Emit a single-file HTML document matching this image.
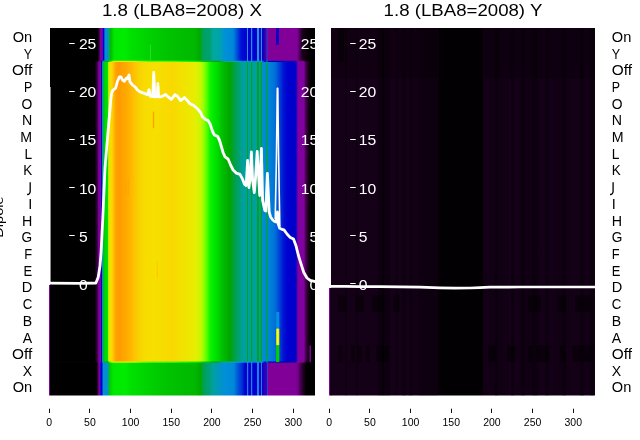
<!DOCTYPE html>
<html><head><meta charset="utf-8"><style>
html,body{margin:0;padding:0;background:#fff;width:640px;height:440px;overflow:hidden}
svg{display:block;will-change:transform}
</style></head><body>
<svg width="640" height="440" viewBox="0 0 640 440">
<style>
.yt{font-family:'Liberation Sans',sans-serif;font-size:13.9px;fill:#fff}
.rl{font-family:'Liberation Sans',sans-serif;font-size:13.9px;fill:#000}
.xt{font-family:'Liberation Sans',sans-serif;font-size:10.5px;fill:#000}
.ti{font-family:'Liberation Sans',sans-serif;font-size:16.9px;fill:#000}
.dl{font-family:'Liberation Sans',sans-serif;font-size:13.4px;fill:#000}
</style>
<defs>
<linearGradient id="gt" gradientUnits="userSpaceOnUse" x1="50.0" y1="0" x2="315.0" y2="0">
<stop offset="0.00000" stop-color="#000000"/>
<stop offset="0.17962" stop-color="#000000"/>
<stop offset="0.18566" stop-color="#380044"/>
<stop offset="0.18981" stop-color="#7a0090"/>
<stop offset="0.19774" stop-color="#8000a0"/>
<stop offset="0.20000" stop-color="#0000d8"/>
<stop offset="0.20377" stop-color="#0000e0"/>
<stop offset="0.20679" stop-color="#0090d0"/>
<stop offset="0.21887" stop-color="#0090d0"/>
<stop offset="0.22264" stop-color="#00a880"/>
<stop offset="0.22642" stop-color="#00b800"/>
<stop offset="0.23396" stop-color="#00c800"/>
<stop offset="0.24151" stop-color="#00e800"/>
<stop offset="0.28302" stop-color="#00ec00"/>
<stop offset="0.30566" stop-color="#00e000"/>
<stop offset="0.37736" stop-color="#00d000"/>
<stop offset="0.45283" stop-color="#00c200"/>
<stop offset="0.54717" stop-color="#00b800"/>
<stop offset="0.56604" stop-color="#00a800"/>
<stop offset="0.57736" stop-color="#00a060"/>
<stop offset="0.60377" stop-color="#00a070"/>
<stop offset="0.61509" stop-color="#00a8a0"/>
<stop offset="0.63774" stop-color="#00a4a8"/>
<stop offset="0.64906" stop-color="#009cc0"/>
<stop offset="0.66038" stop-color="#0090d8"/>
<stop offset="0.69057" stop-color="#0088d8"/>
<stop offset="0.70189" stop-color="#0060d8"/>
<stop offset="0.72075" stop-color="#0010d8"/>
<stop offset="0.74264" stop-color="#0000d0"/>
<stop offset="0.74415" stop-color="#3090e0"/>
<stop offset="0.74679" stop-color="#3090e0"/>
<stop offset="0.74830" stop-color="#0000d0"/>
<stop offset="0.75774" stop-color="#0000d0"/>
<stop offset="0.75925" stop-color="#2090e0"/>
<stop offset="0.76302" stop-color="#2090e0"/>
<stop offset="0.76453" stop-color="#0000d0"/>
<stop offset="0.78038" stop-color="#0000d0"/>
<stop offset="0.78189" stop-color="#3090e0"/>
<stop offset="0.78755" stop-color="#3090e0"/>
<stop offset="0.78906" stop-color="#0010d0"/>
<stop offset="0.79547" stop-color="#0010d0"/>
<stop offset="0.79698" stop-color="#3090e0"/>
<stop offset="0.79962" stop-color="#3090e0"/>
<stop offset="0.80113" stop-color="#0000c8"/>
<stop offset="0.80755" stop-color="#2000b8"/>
<stop offset="0.81623" stop-color="#5000a8"/>
<stop offset="0.81774" stop-color="#2040d0"/>
<stop offset="0.82000" stop-color="#2040d0"/>
<stop offset="0.82189" stop-color="#800098"/>
<stop offset="0.93208" stop-color="#800098"/>
<stop offset="0.93962" stop-color="#600070"/>
<stop offset="0.94717" stop-color="#300038"/>
<stop offset="0.95472" stop-color="#180018"/>
<stop offset="0.97358" stop-color="#080008"/>
<stop offset="0.98491" stop-color="#000000"/>
<stop offset="1.00000" stop-color="#000000"/>
</linearGradient>
<linearGradient id="gm" gradientUnits="userSpaceOnUse" x1="50.0" y1="0" x2="315.0" y2="0">
<stop offset="0.00000" stop-color="#000000"/>
<stop offset="0.16868" stop-color="#000000"/>
<stop offset="0.17925" stop-color="#400050"/>
<stop offset="0.18302" stop-color="#7a0090"/>
<stop offset="0.19057" stop-color="#8800a0"/>
<stop offset="0.19245" stop-color="#0000d0"/>
<stop offset="0.19472" stop-color="#0000d8"/>
<stop offset="0.19660" stop-color="#0088dd"/>
<stop offset="0.20000" stop-color="#00a880"/>
<stop offset="0.20377" stop-color="#00c000"/>
<stop offset="0.20755" stop-color="#00d800"/>
<stop offset="0.21698" stop-color="#00e000"/>
<stop offset="0.21962" stop-color="#a0f000"/>
<stop offset="0.22453" stop-color="#f0e000"/>
<stop offset="0.23396" stop-color="#f8d800"/>
<stop offset="0.24075" stop-color="#ffbc00"/>
<stop offset="0.24906" stop-color="#ffa000"/>
<stop offset="0.26038" stop-color="#ff9a00"/>
<stop offset="0.27358" stop-color="#ffa200"/>
<stop offset="0.28679" stop-color="#ffaa00"/>
<stop offset="0.30189" stop-color="#ffb400"/>
<stop offset="0.31698" stop-color="#ffc000"/>
<stop offset="0.33208" stop-color="#f8d000"/>
<stop offset="0.35849" stop-color="#f8dc00"/>
<stop offset="0.39623" stop-color="#f6e000"/>
<stop offset="0.42264" stop-color="#f8dc00"/>
<stop offset="0.46038" stop-color="#f8d800"/>
<stop offset="0.49057" stop-color="#f4e000"/>
<stop offset="0.52075" stop-color="#eee600"/>
<stop offset="0.53585" stop-color="#ecea00"/>
<stop offset="0.55472" stop-color="#e0f000"/>
<stop offset="0.56981" stop-color="#c0f800"/>
<stop offset="0.58113" stop-color="#90ff00"/>
<stop offset="0.59245" stop-color="#50ff00"/>
<stop offset="0.60377" stop-color="#10f400"/>
<stop offset="0.61887" stop-color="#00e800"/>
<stop offset="0.63396" stop-color="#00d800"/>
<stop offset="0.64906" stop-color="#00c000"/>
<stop offset="0.67925" stop-color="#00a400"/>
<stop offset="0.69434" stop-color="#00a040"/>
<stop offset="0.71321" stop-color="#00a070"/>
<stop offset="0.72830" stop-color="#00a0a0"/>
<stop offset="0.74264" stop-color="#00a0a0"/>
<stop offset="0.74415" stop-color="#00a020"/>
<stop offset="0.74642" stop-color="#00a020"/>
<stop offset="0.74792" stop-color="#00a0a0"/>
<stop offset="0.75774" stop-color="#00a0a0"/>
<stop offset="0.75925" stop-color="#00a020"/>
<stop offset="0.76302" stop-color="#00a020"/>
<stop offset="0.76453" stop-color="#00a0a0"/>
<stop offset="0.78038" stop-color="#00a0a0"/>
<stop offset="0.78189" stop-color="#00a020"/>
<stop offset="0.78717" stop-color="#00a020"/>
<stop offset="0.78868" stop-color="#00a0a0"/>
<stop offset="0.79396" stop-color="#00a0a0"/>
<stop offset="0.79547" stop-color="#00a020"/>
<stop offset="0.79925" stop-color="#00a020"/>
<stop offset="0.80075" stop-color="#0090c8"/>
<stop offset="0.81623" stop-color="#0088d8"/>
<stop offset="0.81774" stop-color="#00a040"/>
<stop offset="0.82113" stop-color="#00a040"/>
<stop offset="0.82264" stop-color="#0088d8"/>
<stop offset="0.84906" stop-color="#0070d8"/>
<stop offset="0.86038" stop-color="#0050d8"/>
<stop offset="0.87170" stop-color="#0030d8"/>
<stop offset="0.88302" stop-color="#0010d0"/>
<stop offset="0.89811" stop-color="#0000d0"/>
<stop offset="0.92830" stop-color="#0000c8"/>
<stop offset="0.93208" stop-color="#5000b0"/>
<stop offset="0.93774" stop-color="#8000a0"/>
<stop offset="0.95849" stop-color="#8000a0"/>
<stop offset="0.96415" stop-color="#500058"/>
<stop offset="0.97358" stop-color="#200020"/>
<stop offset="0.98491" stop-color="#000000"/>
<stop offset="1.00000" stop-color="#000000"/>
</linearGradient>
<linearGradient id="gb" gradientUnits="userSpaceOnUse" x1="50.0" y1="0" x2="315.0" y2="0">
<stop offset="0.00000" stop-color="#000000"/>
<stop offset="0.17472" stop-color="#000000"/>
<stop offset="0.17962" stop-color="#300038"/>
<stop offset="0.18453" stop-color="#7a0090"/>
<stop offset="0.18943" stop-color="#8000a0"/>
<stop offset="0.19132" stop-color="#0000d8"/>
<stop offset="0.19698" stop-color="#0000e0"/>
<stop offset="0.19925" stop-color="#0090d0"/>
<stop offset="0.21811" stop-color="#0090d0"/>
<stop offset="0.22113" stop-color="#00a880"/>
<stop offset="0.22453" stop-color="#00c800"/>
<stop offset="0.23396" stop-color="#00e000"/>
<stop offset="0.24151" stop-color="#00e800"/>
<stop offset="0.28302" stop-color="#00ec00"/>
<stop offset="0.30566" stop-color="#00e000"/>
<stop offset="0.37736" stop-color="#00d000"/>
<stop offset="0.45283" stop-color="#00c200"/>
<stop offset="0.54717" stop-color="#00b800"/>
<stop offset="0.56981" stop-color="#00a800"/>
<stop offset="0.57736" stop-color="#00a050"/>
<stop offset="0.60377" stop-color="#00a080"/>
<stop offset="0.61509" stop-color="#00a0a0"/>
<stop offset="0.64528" stop-color="#0094c8"/>
<stop offset="0.65660" stop-color="#0090d8"/>
<stop offset="0.69434" stop-color="#0088d8"/>
<stop offset="0.70566" stop-color="#0060d8"/>
<stop offset="0.72453" stop-color="#0030d8"/>
<stop offset="0.73585" stop-color="#0000d0"/>
<stop offset="0.74264" stop-color="#0000d0"/>
<stop offset="0.74415" stop-color="#2080e0"/>
<stop offset="0.74792" stop-color="#2080e0"/>
<stop offset="0.74943" stop-color="#0000d0"/>
<stop offset="0.75774" stop-color="#0000d0"/>
<stop offset="0.75925" stop-color="#2080e0"/>
<stop offset="0.76302" stop-color="#2080e0"/>
<stop offset="0.76453" stop-color="#0000d0"/>
<stop offset="0.78038" stop-color="#0000d0"/>
<stop offset="0.78189" stop-color="#2080e0"/>
<stop offset="0.78755" stop-color="#2080e0"/>
<stop offset="0.78906" stop-color="#0000d0"/>
<stop offset="0.79547" stop-color="#0000d0"/>
<stop offset="0.79698" stop-color="#2080e0"/>
<stop offset="0.79962" stop-color="#2080e0"/>
<stop offset="0.80113" stop-color="#1000c8"/>
<stop offset="0.80755" stop-color="#2000c0"/>
<stop offset="0.81774" stop-color="#4000b0"/>
<stop offset="0.81887" stop-color="#2040d0"/>
<stop offset="0.82189" stop-color="#2040d0"/>
<stop offset="0.82377" stop-color="#800098"/>
<stop offset="0.92830" stop-color="#800098"/>
<stop offset="0.93585" stop-color="#700088"/>
<stop offset="0.94717" stop-color="#400048"/>
<stop offset="0.95849" stop-color="#180018"/>
<stop offset="0.96792" stop-color="#000000"/>
<stop offset="1.00000" stop-color="#000000"/>
</linearGradient>
<linearGradient id="gr" gradientUnits="userSpaceOnUse" x1="331.0" y1="0" x2="595.0" y2="0">
<stop offset="0.00000" stop-color="#140017"/>
<stop offset="0.19242" stop-color="#140017"/>
<stop offset="0.19394" stop-color="#0a000c"/>
<stop offset="0.19924" stop-color="#0a000c"/>
<stop offset="0.20076" stop-color="#140017"/>
<stop offset="0.24545" stop-color="#140017"/>
<stop offset="0.24697" stop-color="#0c000e"/>
<stop offset="0.25076" stop-color="#0c000e"/>
<stop offset="0.25227" stop-color="#140017"/>
<stop offset="0.40152" stop-color="#120015"/>
<stop offset="0.41098" stop-color="#030003"/>
<stop offset="0.57197" stop-color="#030003"/>
<stop offset="0.57955" stop-color="#130016"/>
<stop offset="0.64015" stop-color="#100013"/>
<stop offset="0.67803" stop-color="#140017"/>
<stop offset="0.75379" stop-color="#110014"/>
<stop offset="0.81061" stop-color="#150018"/>
<stop offset="0.86742" stop-color="#110014"/>
<stop offset="0.92424" stop-color="#140017"/>
<stop offset="1.00000" stop-color="#120015"/>
</linearGradient>
<linearGradient id="gtm" gradientUnits="userSpaceOnUse" x1="50.0" y1="0" x2="315.0" y2="0">
<stop offset="0.00000" stop-color="#000000"/>
<stop offset="0.00377" stop-color="#000000"/>
<stop offset="0.00755" stop-color="#000000"/>
<stop offset="0.01132" stop-color="#000000"/>
<stop offset="0.01509" stop-color="#000000"/>
<stop offset="0.01887" stop-color="#000000"/>
<stop offset="0.02264" stop-color="#000000"/>
<stop offset="0.02642" stop-color="#000000"/>
<stop offset="0.03019" stop-color="#000000"/>
<stop offset="0.03396" stop-color="#000000"/>
<stop offset="0.03774" stop-color="#000000"/>
<stop offset="0.04151" stop-color="#000000"/>
<stop offset="0.04528" stop-color="#000000"/>
<stop offset="0.04906" stop-color="#000000"/>
<stop offset="0.05283" stop-color="#000000"/>
<stop offset="0.05660" stop-color="#000000"/>
<stop offset="0.06038" stop-color="#000000"/>
<stop offset="0.06415" stop-color="#000000"/>
<stop offset="0.06792" stop-color="#000000"/>
<stop offset="0.07170" stop-color="#000000"/>
<stop offset="0.07547" stop-color="#000000"/>
<stop offset="0.07925" stop-color="#000000"/>
<stop offset="0.08302" stop-color="#000000"/>
<stop offset="0.08679" stop-color="#000000"/>
<stop offset="0.09057" stop-color="#000000"/>
<stop offset="0.09434" stop-color="#000000"/>
<stop offset="0.09811" stop-color="#000000"/>
<stop offset="0.10189" stop-color="#000000"/>
<stop offset="0.10566" stop-color="#000000"/>
<stop offset="0.10943" stop-color="#000000"/>
<stop offset="0.11321" stop-color="#000000"/>
<stop offset="0.11698" stop-color="#000000"/>
<stop offset="0.12075" stop-color="#000000"/>
<stop offset="0.12453" stop-color="#000000"/>
<stop offset="0.12830" stop-color="#000000"/>
<stop offset="0.13208" stop-color="#000000"/>
<stop offset="0.13585" stop-color="#000000"/>
<stop offset="0.13962" stop-color="#000000"/>
<stop offset="0.14340" stop-color="#000000"/>
<stop offset="0.14717" stop-color="#000000"/>
<stop offset="0.15094" stop-color="#000000"/>
<stop offset="0.15472" stop-color="#000000"/>
<stop offset="0.15849" stop-color="#000000"/>
<stop offset="0.16226" stop-color="#000000"/>
<stop offset="0.16604" stop-color="#000000"/>
<stop offset="0.16981" stop-color="#000000"/>
<stop offset="0.17358" stop-color="#09000b"/>
<stop offset="0.17736" stop-color="#1c0020"/>
<stop offset="0.18113" stop-color="#380040"/>
<stop offset="0.18491" stop-color="#700080"/>
<stop offset="0.18868" stop-color="#7e008f"/>
<stop offset="0.19245" stop-color="#2d00a4"/>
<stop offset="0.19623" stop-color="#0000c1"/>
<stop offset="0.20000" stop-color="#0098dd"/>
<stop offset="0.20377" stop-color="#00aaa8"/>
<stop offset="0.20755" stop-color="#00a248"/>
<stop offset="0.21132" stop-color="#00a13d"/>
<stop offset="0.21509" stop-color="#009f33"/>
<stop offset="0.21887" stop-color="#00a700"/>
<stop offset="0.22264" stop-color="#00d700"/>
<stop offset="0.22642" stop-color="#1dff00"/>
<stop offset="0.23019" stop-color="#3bff00"/>
<stop offset="0.23396" stop-color="#58ff00"/>
<stop offset="0.23774" stop-color="#b0ff00"/>
<stop offset="0.24151" stop-color="#ccf900"/>
<stop offset="0.24528" stop-color="#d4f700"/>
<stop offset="0.24906" stop-color="#d8f500"/>
<stop offset="0.25283" stop-color="#dcf400"/>
<stop offset="0.25660" stop-color="#dcf400"/>
<stop offset="0.26038" stop-color="#dcf400"/>
<stop offset="0.26415" stop-color="#dcf400"/>
<stop offset="0.26792" stop-color="#dcf400"/>
<stop offset="0.27170" stop-color="#d8f500"/>
<stop offset="0.27547" stop-color="#d8f500"/>
<stop offset="0.27925" stop-color="#d8f500"/>
<stop offset="0.28302" stop-color="#d8f500"/>
<stop offset="0.28679" stop-color="#d4f700"/>
<stop offset="0.29057" stop-color="#d0f800"/>
<stop offset="0.29434" stop-color="#d0f800"/>
<stop offset="0.29811" stop-color="#ccf900"/>
<stop offset="0.30189" stop-color="#c8fb00"/>
<stop offset="0.30566" stop-color="#c8fb00"/>
<stop offset="0.30943" stop-color="#c4fc00"/>
<stop offset="0.31321" stop-color="#c4fc00"/>
<stop offset="0.31698" stop-color="#c0fd00"/>
<stop offset="0.32075" stop-color="#bcff00"/>
<stop offset="0.32453" stop-color="#bcff00"/>
<stop offset="0.32830" stop-color="#a1ff00"/>
<stop offset="0.33208" stop-color="#a1ff00"/>
<stop offset="0.33585" stop-color="#93ff00"/>
<stop offset="0.33962" stop-color="#93ff00"/>
<stop offset="0.34340" stop-color="#84ff00"/>
<stop offset="0.34717" stop-color="#84ff00"/>
<stop offset="0.35094" stop-color="#84ff00"/>
<stop offset="0.35472" stop-color="#75ff00"/>
<stop offset="0.35849" stop-color="#75ff00"/>
<stop offset="0.36226" stop-color="#75ff00"/>
<stop offset="0.36604" stop-color="#67ff00"/>
<stop offset="0.36981" stop-color="#67ff00"/>
<stop offset="0.37358" stop-color="#67ff00"/>
<stop offset="0.37736" stop-color="#67ff00"/>
<stop offset="0.38113" stop-color="#58ff00"/>
<stop offset="0.38491" stop-color="#58ff00"/>
<stop offset="0.38868" stop-color="#58ff00"/>
<stop offset="0.39245" stop-color="#58ff00"/>
<stop offset="0.39623" stop-color="#58ff00"/>
<stop offset="0.40000" stop-color="#58ff00"/>
<stop offset="0.40377" stop-color="#58ff00"/>
<stop offset="0.40755" stop-color="#58ff00"/>
<stop offset="0.41132" stop-color="#58ff00"/>
<stop offset="0.41509" stop-color="#58ff00"/>
<stop offset="0.41887" stop-color="#49ff00"/>
<stop offset="0.42264" stop-color="#49ff00"/>
<stop offset="0.42642" stop-color="#58ff00"/>
<stop offset="0.43019" stop-color="#58ff00"/>
<stop offset="0.43396" stop-color="#49ff00"/>
<stop offset="0.43774" stop-color="#49ff00"/>
<stop offset="0.44151" stop-color="#49ff00"/>
<stop offset="0.44528" stop-color="#49ff00"/>
<stop offset="0.44906" stop-color="#49ff00"/>
<stop offset="0.45283" stop-color="#49ff00"/>
<stop offset="0.45660" stop-color="#49ff00"/>
<stop offset="0.46038" stop-color="#49ff00"/>
<stop offset="0.46415" stop-color="#49ff00"/>
<stop offset="0.46792" stop-color="#49ff00"/>
<stop offset="0.47170" stop-color="#3bff00"/>
<stop offset="0.47547" stop-color="#3bff00"/>
<stop offset="0.47925" stop-color="#3bff00"/>
<stop offset="0.48302" stop-color="#2cff00"/>
<stop offset="0.48679" stop-color="#2cff00"/>
<stop offset="0.49057" stop-color="#2cff00"/>
<stop offset="0.49434" stop-color="#1dff00"/>
<stop offset="0.49811" stop-color="#1dff00"/>
<stop offset="0.50189" stop-color="#1dff00"/>
<stop offset="0.50566" stop-color="#1dff00"/>
<stop offset="0.50943" stop-color="#1dff00"/>
<stop offset="0.51321" stop-color="#1dff00"/>
<stop offset="0.51698" stop-color="#0fff00"/>
<stop offset="0.52075" stop-color="#0fff00"/>
<stop offset="0.52453" stop-color="#0fff00"/>
<stop offset="0.52830" stop-color="#00ff00"/>
<stop offset="0.53208" stop-color="#00ff00"/>
<stop offset="0.53585" stop-color="#00ff00"/>
<stop offset="0.53962" stop-color="#00fc00"/>
<stop offset="0.54340" stop-color="#00fc00"/>
<stop offset="0.54717" stop-color="#00fa00"/>
<stop offset="0.55094" stop-color="#00f700"/>
<stop offset="0.55472" stop-color="#00f400"/>
<stop offset="0.55849" stop-color="#00f200"/>
<stop offset="0.56226" stop-color="#00ec00"/>
<stop offset="0.56604" stop-color="#00e700"/>
<stop offset="0.56981" stop-color="#00da00"/>
<stop offset="0.57358" stop-color="#00d400"/>
<stop offset="0.57736" stop-color="#00cf00"/>
<stop offset="0.58113" stop-color="#00cc00"/>
<stop offset="0.58491" stop-color="#00ca00"/>
<stop offset="0.58868" stop-color="#00c700"/>
<stop offset="0.59245" stop-color="#00c400"/>
<stop offset="0.59623" stop-color="#00c400"/>
<stop offset="0.60000" stop-color="#00c200"/>
<stop offset="0.60377" stop-color="#00bf00"/>
<stop offset="0.60755" stop-color="#00b400"/>
<stop offset="0.61132" stop-color="#00af00"/>
<stop offset="0.61509" stop-color="#00a400"/>
<stop offset="0.61887" stop-color="#00a200"/>
<stop offset="0.62264" stop-color="#009f00"/>
<stop offset="0.62642" stop-color="#009c00"/>
<stop offset="0.63019" stop-color="#009a00"/>
<stop offset="0.63396" stop-color="#009a08"/>
<stop offset="0.63774" stop-color="#009b13"/>
<stop offset="0.64151" stop-color="#009f33"/>
<stop offset="0.64528" stop-color="#00a248"/>
<stop offset="0.64906" stop-color="#00a55d"/>
<stop offset="0.65283" stop-color="#00a773"/>
<stop offset="0.65660" stop-color="#00a97d"/>
<stop offset="0.66038" stop-color="#00aa90"/>
<stop offset="0.66415" stop-color="#00aa93"/>
<stop offset="0.66792" stop-color="#00aa95"/>
<stop offset="0.67170" stop-color="#00aa95"/>
<stop offset="0.67547" stop-color="#00aa98"/>
<stop offset="0.67925" stop-color="#00aa9b"/>
<stop offset="0.68302" stop-color="#00aaa3"/>
<stop offset="0.68679" stop-color="#00aaa5"/>
<stop offset="0.69057" stop-color="#00aaa8"/>
<stop offset="0.69434" stop-color="#00a7b3"/>
<stop offset="0.69811" stop-color="#00a4bb"/>
<stop offset="0.70189" stop-color="#00a3bf"/>
<stop offset="0.70566" stop-color="#00a2c3"/>
<stop offset="0.70943" stop-color="#009fcb"/>
<stop offset="0.71321" stop-color="#009ecf"/>
<stop offset="0.71698" stop-color="#009bd7"/>
<stop offset="0.72075" stop-color="#009adb"/>
<stop offset="0.72453" stop-color="#0092dd"/>
<stop offset="0.72830" stop-color="#008ddd"/>
<stop offset="0.73208" stop-color="#008add"/>
<stop offset="0.73585" stop-color="#0088dd"/>
<stop offset="0.73962" stop-color="#0088dd"/>
<stop offset="0.74340" stop-color="#00a0c7"/>
<stop offset="0.74717" stop-color="#00a3bf"/>
<stop offset="0.75094" stop-color="#0088dd"/>
<stop offset="0.75472" stop-color="#0088dd"/>
<stop offset="0.75849" stop-color="#00a0c7"/>
<stop offset="0.76226" stop-color="#00aaa3"/>
<stop offset="0.76604" stop-color="#0088dd"/>
<stop offset="0.76981" stop-color="#0088dd"/>
<stop offset="0.77358" stop-color="#0088dd"/>
<stop offset="0.77736" stop-color="#0088dd"/>
<stop offset="0.78113" stop-color="#00a0c7"/>
<stop offset="0.78491" stop-color="#00aaa3"/>
<stop offset="0.78868" stop-color="#0092dd"/>
<stop offset="0.79245" stop-color="#0090dd"/>
<stop offset="0.79623" stop-color="#00a6b7"/>
<stop offset="0.80000" stop-color="#00a2c3"/>
<stop offset="0.80377" stop-color="#0067dd"/>
<stop offset="0.80755" stop-color="#0013dd"/>
<stop offset="0.81132" stop-color="#0009dd"/>
<stop offset="0.81509" stop-color="#0000d9"/>
<stop offset="0.81887" stop-color="#00a2c3"/>
<stop offset="0.82264" stop-color="#0000d1"/>
<stop offset="0.82642" stop-color="#0000cd"/>
<stop offset="0.83019" stop-color="#0000cd"/>
<stop offset="0.83396" stop-color="#0000c9"/>
<stop offset="0.83774" stop-color="#0000c5"/>
<stop offset="0.84151" stop-color="#0000c5"/>
<stop offset="0.84528" stop-color="#0000c1"/>
<stop offset="0.84906" stop-color="#0000c1"/>
<stop offset="0.85283" stop-color="#0000c1"/>
<stop offset="0.85660" stop-color="#0000bd"/>
<stop offset="0.86038" stop-color="#0000bd"/>
<stop offset="0.86415" stop-color="#0000b9"/>
<stop offset="0.86792" stop-color="#0000b5"/>
<stop offset="0.87170" stop-color="#0000b5"/>
<stop offset="0.87547" stop-color="#0000b1"/>
<stop offset="0.87925" stop-color="#0000b1"/>
<stop offset="0.88302" stop-color="#0000ad"/>
<stop offset="0.88679" stop-color="#0d00a8"/>
<stop offset="0.89057" stop-color="#0d00a8"/>
<stop offset="0.89434" stop-color="#0d00a8"/>
<stop offset="0.89811" stop-color="#0d00a8"/>
<stop offset="0.90189" stop-color="#1800a7"/>
<stop offset="0.90566" stop-color="#1800a7"/>
<stop offset="0.90943" stop-color="#1800a7"/>
<stop offset="0.91321" stop-color="#1800a7"/>
<stop offset="0.91698" stop-color="#1800a7"/>
<stop offset="0.92075" stop-color="#1800a7"/>
<stop offset="0.92453" stop-color="#1800a7"/>
<stop offset="0.92830" stop-color="#1800a7"/>
<stop offset="0.93208" stop-color="#6d009c"/>
<stop offset="0.93585" stop-color="#810092"/>
<stop offset="0.93962" stop-color="#7e008f"/>
<stop offset="0.94340" stop-color="#7d008e"/>
<stop offset="0.94717" stop-color="#7a008b"/>
<stop offset="0.95094" stop-color="#7a008b"/>
<stop offset="0.95472" stop-color="#79008a"/>
<stop offset="0.95849" stop-color="#79008a"/>
<stop offset="0.96226" stop-color="#380040"/>
<stop offset="0.96604" stop-color="#25002b"/>
<stop offset="0.96981" stop-color="#1c0020"/>
<stop offset="0.97358" stop-color="#130015"/>
<stop offset="0.97736" stop-color="#09000b"/>
<stop offset="0.98113" stop-color="#000000"/>
<stop offset="0.98491" stop-color="#000000"/>
<stop offset="0.98868" stop-color="#000000"/>
<stop offset="0.99245" stop-color="#000000"/>
<stop offset="0.99623" stop-color="#000000"/>
<stop offset="1.00000" stop-color="#000000"/>
</linearGradient>
<linearGradient id="gmb" gradientUnits="userSpaceOnUse" x1="50.0" y1="0" x2="315.0" y2="0">
<stop offset="0.00000" stop-color="#000000"/>
<stop offset="0.00377" stop-color="#000000"/>
<stop offset="0.00755" stop-color="#000000"/>
<stop offset="0.01132" stop-color="#000000"/>
<stop offset="0.01509" stop-color="#000000"/>
<stop offset="0.01887" stop-color="#000000"/>
<stop offset="0.02264" stop-color="#000000"/>
<stop offset="0.02642" stop-color="#000000"/>
<stop offset="0.03019" stop-color="#000000"/>
<stop offset="0.03396" stop-color="#000000"/>
<stop offset="0.03774" stop-color="#000000"/>
<stop offset="0.04151" stop-color="#000000"/>
<stop offset="0.04528" stop-color="#000000"/>
<stop offset="0.04906" stop-color="#000000"/>
<stop offset="0.05283" stop-color="#000000"/>
<stop offset="0.05660" stop-color="#000000"/>
<stop offset="0.06038" stop-color="#000000"/>
<stop offset="0.06415" stop-color="#000000"/>
<stop offset="0.06792" stop-color="#000000"/>
<stop offset="0.07170" stop-color="#000000"/>
<stop offset="0.07547" stop-color="#000000"/>
<stop offset="0.07925" stop-color="#000000"/>
<stop offset="0.08302" stop-color="#000000"/>
<stop offset="0.08679" stop-color="#000000"/>
<stop offset="0.09057" stop-color="#000000"/>
<stop offset="0.09434" stop-color="#000000"/>
<stop offset="0.09811" stop-color="#000000"/>
<stop offset="0.10189" stop-color="#000000"/>
<stop offset="0.10566" stop-color="#000000"/>
<stop offset="0.10943" stop-color="#000000"/>
<stop offset="0.11321" stop-color="#000000"/>
<stop offset="0.11698" stop-color="#000000"/>
<stop offset="0.12075" stop-color="#000000"/>
<stop offset="0.12453" stop-color="#000000"/>
<stop offset="0.12830" stop-color="#000000"/>
<stop offset="0.13208" stop-color="#000000"/>
<stop offset="0.13585" stop-color="#000000"/>
<stop offset="0.13962" stop-color="#000000"/>
<stop offset="0.14340" stop-color="#000000"/>
<stop offset="0.14717" stop-color="#000000"/>
<stop offset="0.15094" stop-color="#000000"/>
<stop offset="0.15472" stop-color="#000000"/>
<stop offset="0.15849" stop-color="#000000"/>
<stop offset="0.16226" stop-color="#000000"/>
<stop offset="0.16604" stop-color="#000000"/>
<stop offset="0.16981" stop-color="#000000"/>
<stop offset="0.17358" stop-color="#09000b"/>
<stop offset="0.17736" stop-color="#25002b"/>
<stop offset="0.18113" stop-color="#540060"/>
<stop offset="0.18491" stop-color="#7f0090"/>
<stop offset="0.18868" stop-color="#83009a"/>
<stop offset="0.19245" stop-color="#0000d5"/>
<stop offset="0.19623" stop-color="#0038dd"/>
<stop offset="0.20000" stop-color="#00aaa5"/>
<stop offset="0.20377" stop-color="#00a773"/>
<stop offset="0.20755" stop-color="#00a248"/>
<stop offset="0.21132" stop-color="#00a13d"/>
<stop offset="0.21509" stop-color="#009f33"/>
<stop offset="0.21887" stop-color="#00ac00"/>
<stop offset="0.22264" stop-color="#00dc00"/>
<stop offset="0.22642" stop-color="#58ff00"/>
<stop offset="0.23019" stop-color="#75ff00"/>
<stop offset="0.23396" stop-color="#a1ff00"/>
<stop offset="0.23774" stop-color="#c0fd00"/>
<stop offset="0.24151" stop-color="#ccf900"/>
<stop offset="0.24528" stop-color="#d4f700"/>
<stop offset="0.24906" stop-color="#d8f500"/>
<stop offset="0.25283" stop-color="#dcf400"/>
<stop offset="0.25660" stop-color="#dcf400"/>
<stop offset="0.26038" stop-color="#dcf400"/>
<stop offset="0.26415" stop-color="#dcf400"/>
<stop offset="0.26792" stop-color="#dcf400"/>
<stop offset="0.27170" stop-color="#d8f500"/>
<stop offset="0.27547" stop-color="#d8f500"/>
<stop offset="0.27925" stop-color="#d8f500"/>
<stop offset="0.28302" stop-color="#d8f500"/>
<stop offset="0.28679" stop-color="#d4f700"/>
<stop offset="0.29057" stop-color="#d0f800"/>
<stop offset="0.29434" stop-color="#d0f800"/>
<stop offset="0.29811" stop-color="#ccf900"/>
<stop offset="0.30189" stop-color="#c8fb00"/>
<stop offset="0.30566" stop-color="#c8fb00"/>
<stop offset="0.30943" stop-color="#c4fc00"/>
<stop offset="0.31321" stop-color="#c4fc00"/>
<stop offset="0.31698" stop-color="#c0fd00"/>
<stop offset="0.32075" stop-color="#bcff00"/>
<stop offset="0.32453" stop-color="#bcff00"/>
<stop offset="0.32830" stop-color="#a1ff00"/>
<stop offset="0.33208" stop-color="#a1ff00"/>
<stop offset="0.33585" stop-color="#93ff00"/>
<stop offset="0.33962" stop-color="#93ff00"/>
<stop offset="0.34340" stop-color="#84ff00"/>
<stop offset="0.34717" stop-color="#84ff00"/>
<stop offset="0.35094" stop-color="#84ff00"/>
<stop offset="0.35472" stop-color="#75ff00"/>
<stop offset="0.35849" stop-color="#75ff00"/>
<stop offset="0.36226" stop-color="#75ff00"/>
<stop offset="0.36604" stop-color="#67ff00"/>
<stop offset="0.36981" stop-color="#67ff00"/>
<stop offset="0.37358" stop-color="#67ff00"/>
<stop offset="0.37736" stop-color="#67ff00"/>
<stop offset="0.38113" stop-color="#58ff00"/>
<stop offset="0.38491" stop-color="#58ff00"/>
<stop offset="0.38868" stop-color="#58ff00"/>
<stop offset="0.39245" stop-color="#58ff00"/>
<stop offset="0.39623" stop-color="#58ff00"/>
<stop offset="0.40000" stop-color="#58ff00"/>
<stop offset="0.40377" stop-color="#58ff00"/>
<stop offset="0.40755" stop-color="#58ff00"/>
<stop offset="0.41132" stop-color="#58ff00"/>
<stop offset="0.41509" stop-color="#58ff00"/>
<stop offset="0.41887" stop-color="#49ff00"/>
<stop offset="0.42264" stop-color="#49ff00"/>
<stop offset="0.42642" stop-color="#58ff00"/>
<stop offset="0.43019" stop-color="#58ff00"/>
<stop offset="0.43396" stop-color="#49ff00"/>
<stop offset="0.43774" stop-color="#49ff00"/>
<stop offset="0.44151" stop-color="#49ff00"/>
<stop offset="0.44528" stop-color="#49ff00"/>
<stop offset="0.44906" stop-color="#49ff00"/>
<stop offset="0.45283" stop-color="#49ff00"/>
<stop offset="0.45660" stop-color="#49ff00"/>
<stop offset="0.46038" stop-color="#49ff00"/>
<stop offset="0.46415" stop-color="#49ff00"/>
<stop offset="0.46792" stop-color="#49ff00"/>
<stop offset="0.47170" stop-color="#3bff00"/>
<stop offset="0.47547" stop-color="#3bff00"/>
<stop offset="0.47925" stop-color="#3bff00"/>
<stop offset="0.48302" stop-color="#2cff00"/>
<stop offset="0.48679" stop-color="#2cff00"/>
<stop offset="0.49057" stop-color="#2cff00"/>
<stop offset="0.49434" stop-color="#1dff00"/>
<stop offset="0.49811" stop-color="#1dff00"/>
<stop offset="0.50189" stop-color="#1dff00"/>
<stop offset="0.50566" stop-color="#1dff00"/>
<stop offset="0.50943" stop-color="#1dff00"/>
<stop offset="0.51321" stop-color="#1dff00"/>
<stop offset="0.51698" stop-color="#0fff00"/>
<stop offset="0.52075" stop-color="#0fff00"/>
<stop offset="0.52453" stop-color="#0fff00"/>
<stop offset="0.52830" stop-color="#00ff00"/>
<stop offset="0.53208" stop-color="#00ff00"/>
<stop offset="0.53585" stop-color="#00ff00"/>
<stop offset="0.53962" stop-color="#00fc00"/>
<stop offset="0.54340" stop-color="#00fc00"/>
<stop offset="0.54717" stop-color="#00fa00"/>
<stop offset="0.55094" stop-color="#00f700"/>
<stop offset="0.55472" stop-color="#00f400"/>
<stop offset="0.55849" stop-color="#00f200"/>
<stop offset="0.56226" stop-color="#00ec00"/>
<stop offset="0.56604" stop-color="#00ea00"/>
<stop offset="0.56981" stop-color="#00e400"/>
<stop offset="0.57358" stop-color="#00d700"/>
<stop offset="0.57736" stop-color="#00cf00"/>
<stop offset="0.58113" stop-color="#00cf00"/>
<stop offset="0.58491" stop-color="#00ca00"/>
<stop offset="0.58868" stop-color="#00c700"/>
<stop offset="0.59245" stop-color="#00c400"/>
<stop offset="0.59623" stop-color="#00c200"/>
<stop offset="0.60000" stop-color="#00bf00"/>
<stop offset="0.60377" stop-color="#00bc00"/>
<stop offset="0.60755" stop-color="#00b200"/>
<stop offset="0.61132" stop-color="#00ac00"/>
<stop offset="0.61509" stop-color="#00a400"/>
<stop offset="0.61887" stop-color="#009f00"/>
<stop offset="0.62264" stop-color="#009a00"/>
<stop offset="0.62642" stop-color="#009a08"/>
<stop offset="0.63019" stop-color="#009b13"/>
<stop offset="0.63396" stop-color="#009e28"/>
<stop offset="0.63774" stop-color="#00a13d"/>
<stop offset="0.64151" stop-color="#00a248"/>
<stop offset="0.64528" stop-color="#00a55d"/>
<stop offset="0.64906" stop-color="#00a773"/>
<stop offset="0.65283" stop-color="#00aa8b"/>
<stop offset="0.65660" stop-color="#00aa8d"/>
<stop offset="0.66038" stop-color="#00aa90"/>
<stop offset="0.66415" stop-color="#00aa93"/>
<stop offset="0.66792" stop-color="#00aa95"/>
<stop offset="0.67170" stop-color="#00aa95"/>
<stop offset="0.67547" stop-color="#00aa98"/>
<stop offset="0.67925" stop-color="#00aa9b"/>
<stop offset="0.68302" stop-color="#00aaa3"/>
<stop offset="0.68679" stop-color="#00aaa5"/>
<stop offset="0.69057" stop-color="#00aaa8"/>
<stop offset="0.69434" stop-color="#00aaab"/>
<stop offset="0.69811" stop-color="#00a6b7"/>
<stop offset="0.70189" stop-color="#00a4bb"/>
<stop offset="0.70566" stop-color="#00a2c3"/>
<stop offset="0.70943" stop-color="#00a0c7"/>
<stop offset="0.71321" stop-color="#009fcb"/>
<stop offset="0.71698" stop-color="#009ecf"/>
<stop offset="0.72075" stop-color="#009cd3"/>
<stop offset="0.72453" stop-color="#0098dd"/>
<stop offset="0.72830" stop-color="#0090dd"/>
<stop offset="0.73208" stop-color="#0090dd"/>
<stop offset="0.73585" stop-color="#0088dd"/>
<stop offset="0.73962" stop-color="#0088dd"/>
<stop offset="0.74340" stop-color="#00a0c7"/>
<stop offset="0.74717" stop-color="#00a6b7"/>
<stop offset="0.75094" stop-color="#0088dd"/>
<stop offset="0.75472" stop-color="#0088dd"/>
<stop offset="0.75849" stop-color="#00a0c7"/>
<stop offset="0.76226" stop-color="#00aaab"/>
<stop offset="0.76604" stop-color="#0088dd"/>
<stop offset="0.76981" stop-color="#0088dd"/>
<stop offset="0.77358" stop-color="#0088dd"/>
<stop offset="0.77736" stop-color="#0088dd"/>
<stop offset="0.78113" stop-color="#00a0c7"/>
<stop offset="0.78491" stop-color="#00aaab"/>
<stop offset="0.78868" stop-color="#0090dd"/>
<stop offset="0.79245" stop-color="#0088dd"/>
<stop offset="0.79623" stop-color="#00a4bb"/>
<stop offset="0.80000" stop-color="#00a0c7"/>
<stop offset="0.80377" stop-color="#0067dd"/>
<stop offset="0.80755" stop-color="#001cdd"/>
<stop offset="0.81132" stop-color="#0009dd"/>
<stop offset="0.81509" stop-color="#0000dd"/>
<stop offset="0.81887" stop-color="#00a2c3"/>
<stop offset="0.82264" stop-color="#0000dd"/>
<stop offset="0.82642" stop-color="#0000cd"/>
<stop offset="0.83019" stop-color="#0000cd"/>
<stop offset="0.83396" stop-color="#0000c9"/>
<stop offset="0.83774" stop-color="#0000c5"/>
<stop offset="0.84151" stop-color="#0000c5"/>
<stop offset="0.84528" stop-color="#0000c1"/>
<stop offset="0.84906" stop-color="#0000c1"/>
<stop offset="0.85283" stop-color="#0000c1"/>
<stop offset="0.85660" stop-color="#0000bd"/>
<stop offset="0.86038" stop-color="#0000bd"/>
<stop offset="0.86415" stop-color="#0000b9"/>
<stop offset="0.86792" stop-color="#0000b5"/>
<stop offset="0.87170" stop-color="#0000b5"/>
<stop offset="0.87547" stop-color="#0000b1"/>
<stop offset="0.87925" stop-color="#0000b1"/>
<stop offset="0.88302" stop-color="#0000ad"/>
<stop offset="0.88679" stop-color="#0d00a8"/>
<stop offset="0.89057" stop-color="#0d00a8"/>
<stop offset="0.89434" stop-color="#0d00a8"/>
<stop offset="0.89811" stop-color="#0d00a8"/>
<stop offset="0.90189" stop-color="#1800a7"/>
<stop offset="0.90566" stop-color="#1800a7"/>
<stop offset="0.90943" stop-color="#1800a7"/>
<stop offset="0.91321" stop-color="#1800a7"/>
<stop offset="0.91698" stop-color="#1800a7"/>
<stop offset="0.92075" stop-color="#1800a7"/>
<stop offset="0.92453" stop-color="#1800a7"/>
<stop offset="0.92830" stop-color="#1800a7"/>
<stop offset="0.93208" stop-color="#850096"/>
<stop offset="0.93585" stop-color="#810092"/>
<stop offset="0.93962" stop-color="#7e008f"/>
<stop offset="0.94340" stop-color="#7d008e"/>
<stop offset="0.94717" stop-color="#7b008c"/>
<stop offset="0.95094" stop-color="#7a008b"/>
<stop offset="0.95472" stop-color="#7a008b"/>
<stop offset="0.95849" stop-color="#79008a"/>
<stop offset="0.96226" stop-color="#2f0035"/>
<stop offset="0.96604" stop-color="#1c0020"/>
<stop offset="0.96981" stop-color="#130015"/>
<stop offset="0.97358" stop-color="#09000b"/>
<stop offset="0.97736" stop-color="#09000b"/>
<stop offset="0.98113" stop-color="#000000"/>
<stop offset="0.98491" stop-color="#000000"/>
<stop offset="0.98868" stop-color="#000000"/>
<stop offset="0.99245" stop-color="#000000"/>
<stop offset="0.99623" stop-color="#000000"/>
<stop offset="1.00000" stop-color="#000000"/>
</linearGradient>
<clipPath id="clipL"><rect x="50" y="0" width="265" height="440"/></clipPath>
</defs>
<rect width="640" height="440" fill="#fff"/>
<rect x="50.0" y="28.0" width="265.0" height="33.41" fill="url(#gt)"/>
<rect x="50.0" y="60.91" width="265.0" height="301.68" fill="url(#gm)"/>
<rect x="50.0" y="362.09" width="265.0" height="33.41" fill="url(#gb)"/>
<rect x="50.0" y="60.81" width="265.0" height="1.2" fill="url(#gtm)"/>
<rect x="50.0" y="361.49" width="265.0" height="1.2" fill="url(#gmb)"/>
<rect x="50" y="87" width="1" height="196" fill="#fff" opacity="0.55"/>
<rect x="49" y="285" width="1" height="110.50" fill="#8000a0"/>
<rect x="276" y="28.00" width="3" height="16.70" fill="#1000c0"/>
<rect x="125.2" y="178.34" width="1" height="16.70" fill="#ffa000" opacity="0.7"/>
<rect x="127.9" y="178.34" width="1" height="16.70" fill="#ffa000" opacity="0.7"/>
<rect x="149.9" y="44.70" width="1" height="16.70" fill="#30e040" opacity="0.8"/>
<rect x="156.7" y="261.86" width="1.3" height="16.70" fill="#ffc400" opacity="0.8"/>
<rect x="152.9" y="111.52" width="1.3" height="16.70" fill="#ffa000"/>
<rect x="276.1" y="311.98" width="3.2" height="16.70" fill="#0090e0"/>
<rect x="276.1" y="328.68" width="3.2" height="16.70" fill="#d0f000"/>
<rect x="277" y="328.68" width="1.4" height="16.70" fill="#ffff20"/>
<rect x="276.1" y="345.39" width="3.2" height="16.70" fill="#00d000"/>
<rect x="309.5" y="345.39" width="1.5" height="16.70" fill="#800098"/>
<rect x="331.0" y="28.0" width="264.0" height="367.5" fill="url(#gr)"/>
<rect x="331" y="28.00" width="106" height="50.11" fill="#000" opacity="0.2"/>
<rect x="484" y="28.00" width="111" height="50.11" fill="#000" opacity="0.22"/>
<rect x="338" y="28.00" width="6" height="33.41" fill="#000" opacity="0.45"/>
<rect x="345.5" y="28.00" width="1.5" height="367.50" fill="#000" opacity="0.35"/>
<rect x="356" y="28.00" width="1.5" height="367.50" fill="#000" opacity="0.3"/>
<rect x="378" y="28.00" width="12" height="367.50" fill="#000" opacity="0.25"/>
<rect x="402" y="28.00" width="3.5" height="367.50" fill="#000" opacity="0.3"/>
<rect x="409" y="28.00" width="3.5" height="367.50" fill="#000" opacity="0.3"/>
<rect x="419" y="28.00" width="19" height="367.50" fill="#000" opacity="0.25"/>
<rect x="495" y="28.00" width="2.5" height="367.50" fill="#000" opacity="0.35"/>
<rect x="511" y="28.00" width="3" height="367.50" fill="#000" opacity="0.35"/>
<rect x="521" y="28.00" width="4" height="367.50" fill="#000" opacity="0.3"/>
<rect x="532.5" y="28.00" width="5.0" height="367.50" fill="#000" opacity="0.3"/>
<rect x="545" y="28.00" width="4" height="367.50" fill="#000" opacity="0.3"/>
<rect x="562.5" y="28.00" width="3.5" height="367.50" fill="#000" opacity="0.3"/>
<rect x="580" y="28.00" width="4" height="367.50" fill="#000" opacity="0.3"/>
<rect x="590" y="28.00" width="4" height="367.50" fill="#000" opacity="0.3"/>
<rect x="338.4" y="345.39" width="4.300000000000011" height="16.70" fill="#000" opacity="0.45"/>
<rect x="351" y="345.39" width="4" height="16.70" fill="#000" opacity="0.45"/>
<rect x="357" y="345.39" width="4.600000000000023" height="16.70" fill="#000" opacity="0.45"/>
<rect x="365.9" y="345.39" width="4.100000000000023" height="16.70" fill="#000" opacity="0.45"/>
<rect x="376.4" y="345.39" width="12.600000000000023" height="16.70" fill="#000" opacity="0.45"/>
<rect x="488" y="345.39" width="8.600000000000023" height="16.70" fill="#000" opacity="0.45"/>
<rect x="507" y="345.39" width="8.600000000000023" height="16.70" fill="#000" opacity="0.45"/>
<rect x="528" y="345.39" width="4.5" height="16.70" fill="#000" opacity="0.45"/>
<rect x="536.7" y="345.39" width="12.699999999999932" height="16.70" fill="#000" opacity="0.45"/>
<rect x="560" y="345.39" width="6" height="16.70" fill="#000" opacity="0.45"/>
<rect x="572.6" y="345.39" width="21.100000000000023" height="16.70" fill="#000" opacity="0.45"/>
<rect x="338" y="295.27" width="9" height="16.70" fill="#000" opacity="0.45"/>
<rect x="355" y="295.27" width="9" height="16.70" fill="#000" opacity="0.45"/>
<rect x="372" y="295.27" width="13" height="16.70" fill="#000" opacity="0.45"/>
<rect x="393" y="295.27" width="6.600000000000023" height="16.70" fill="#000" opacity="0.45"/>
<rect x="528" y="295.27" width="13" height="16.70" fill="#000" opacity="0.45"/>
<rect x="557.8" y="295.27" width="8.200000000000045" height="16.70" fill="#000" opacity="0.45"/>
<rect x="575" y="295.27" width="16.600000000000023" height="16.70" fill="#000" opacity="0.45"/>
<rect x="330" y="288" width="1.5" height="107.50" fill="#140017"/>
<rect x="329" y="288" width="1" height="107.50" fill="#8000a0"/>
<polyline points="49.00,283.20 80.00,283.40 95.90,283.00 98.20,277.30 100.00,265.90 101.10,252.30 102.00,234.10 102.80,218.20 103.60,200.00 105.00,168.20 106.90,145.50 108.80,122.70 110.00,109.40 110.70,100.00 111.80,92.50 113.10,90.00 115.60,88.10 117.50,81.25 119.40,76.90 121.00,76.90 122.50,80.00 124.40,81.25 126.25,78.10 127.50,78.75 129.00,75.00 130.00,81.90 132.50,85.00 135.00,86.90 137.50,90.00 140.00,91.90 143.75,93.10 147.50,94.80 149.10,89.80 150.40,96.25 152.80,96.50 153.75,72.50 154.80,96.90 157.30,96.50 157.90,83.75 158.60,96.90 160.00,96.90 162.50,96.25 165.60,94.40 168.10,96.90 171.25,99.40 175.00,94.75 177.50,96.25 180.60,100.60 184.40,97.50 186.90,100.00 190.00,103.75 193.75,105.60 197.50,108.75 200.60,112.50 202.50,116.90 205.60,119.40 208.10,120.60 210.00,123.75 212.50,131.25 214.40,135.00 217.50,136.25 219.40,140.00 221.25,146.25 223.10,152.50 225.00,156.90 228.10,159.00 230.60,165.00 233.10,170.00 236.25,173.10 240.00,174.40 242.30,178.60 244.50,184.30 246.20,185.50 247.60,160.50 248.90,187.50 250.20,178.00 251.40,152.00 252.60,180.00 254.30,192.50 255.50,178.00 257.20,151.50 258.60,176.00 259.70,195.50 261.40,148.50 262.60,200.50 263.80,206.00 264.80,210.50 265.80,211.00 267.40,173.40 269.20,212.00 270.60,217.00 272.60,219.80 274.60,221.50 276.20,222.00 277.50,212.00 278.30,224.00 279.60,228.20 282.00,229.30 284.00,229.90 287.20,234.30 290.30,237.50 293.50,239.10 295.90,245.40 298.30,255.00 300.70,262.90 303.80,272.50 307.00,278.00 310.20,280.40 313.40,281.20 316.00,281.80" fill="none" stroke="#fff" stroke-width="2.8" stroke-linejoin="round" stroke-linecap="butt"/>
<polyline points="275.2,219 276.4,160 277.3,88.2 277.8,88.2 278.5,150 279.8,226" fill="none" stroke="#fff" stroke-width="1.6" stroke-linejoin="round"/>
<polyline points="328.50,286.40 345.00,286.40 360.00,286.60 380.00,286.60 400.00,286.80 420.00,287.20 440.00,287.90 455.00,288.20 470.00,288.00 480.00,287.60 490.00,287.10 520.00,287.00 560.00,287.00 595.00,287.00" fill="none" stroke="#fff" stroke-width="2.7" stroke-linejoin="round"/>
<line x1="69.2" x2="74.7" y1="43.50" y2="43.50" stroke="#fff" stroke-width="1"/>
<text x="78.90" y="49.20" class="yt" textLength="17.43" lengthAdjust="spacingAndGlyphs">25</text>
<line x1="350.2" x2="355.7" y1="43.50" y2="43.50" stroke="#fff" stroke-width="1"/>
<text x="358.80" y="49.20" class="yt" textLength="17.43" lengthAdjust="spacingAndGlyphs">25</text>
<text x="300.87" y="49.20" class="yt" textLength="17.43" lengthAdjust="spacingAndGlyphs" clip-path="url(#clipL)">25</text>
<line x1="69.2" x2="74.7" y1="91.50" y2="91.50" stroke="#fff" stroke-width="1"/>
<text x="78.90" y="97.30" class="yt" textLength="17.43" lengthAdjust="spacingAndGlyphs">20</text>
<line x1="350.2" x2="355.7" y1="91.50" y2="91.50" stroke="#fff" stroke-width="1"/>
<text x="358.80" y="97.30" class="yt" textLength="17.43" lengthAdjust="spacingAndGlyphs">20</text>
<text x="300.87" y="97.30" class="yt" textLength="17.43" lengthAdjust="spacingAndGlyphs" clip-path="url(#clipL)">20</text>
<line x1="69.2" x2="74.7" y1="139.50" y2="139.50" stroke="#fff" stroke-width="1"/>
<text x="78.90" y="145.40" class="yt" textLength="17.43" lengthAdjust="spacingAndGlyphs">15</text>
<line x1="350.2" x2="355.7" y1="139.50" y2="139.50" stroke="#fff" stroke-width="1"/>
<text x="358.80" y="145.40" class="yt" textLength="17.43" lengthAdjust="spacingAndGlyphs">15</text>
<text x="300.87" y="145.40" class="yt" textLength="17.43" lengthAdjust="spacingAndGlyphs" clip-path="url(#clipL)">15</text>
<line x1="69.2" x2="74.7" y1="187.50" y2="187.50" stroke="#fff" stroke-width="1"/>
<text x="78.90" y="193.50" class="yt" textLength="17.43" lengthAdjust="spacingAndGlyphs">10</text>
<line x1="350.2" x2="355.7" y1="187.50" y2="187.50" stroke="#fff" stroke-width="1"/>
<text x="358.80" y="193.50" class="yt" textLength="17.43" lengthAdjust="spacingAndGlyphs">10</text>
<text x="300.87" y="193.50" class="yt" textLength="17.43" lengthAdjust="spacingAndGlyphs" clip-path="url(#clipL)">10</text>
<line x1="69.2" x2="74.7" y1="235.50" y2="235.50" stroke="#fff" stroke-width="1"/>
<text x="78.90" y="241.60" class="yt" textLength="8.72" lengthAdjust="spacingAndGlyphs">5</text>
<line x1="350.2" x2="355.7" y1="235.50" y2="235.50" stroke="#fff" stroke-width="1"/>
<text x="358.80" y="241.60" class="yt" textLength="8.72" lengthAdjust="spacingAndGlyphs">5</text>
<text x="309.58" y="241.60" class="yt" textLength="8.72" lengthAdjust="spacingAndGlyphs" clip-path="url(#clipL)">5</text>
<line x1="69.2" x2="74.7" y1="283.50" y2="283.50" stroke="#fff" stroke-width="1"/>
<text x="78.90" y="289.70" class="yt" textLength="8.72" lengthAdjust="spacingAndGlyphs">0</text>
<line x1="350.2" x2="355.7" y1="283.50" y2="283.50" stroke="#fff" stroke-width="1"/>
<text x="358.80" y="289.70" class="yt" textLength="8.72" lengthAdjust="spacingAndGlyphs">0</text>
<text x="309.58" y="289.70" class="yt" textLength="8.72" lengthAdjust="spacingAndGlyphs" clip-path="url(#clipL)">0</text>
<text x="12.73" y="41.85" class="rl" textLength="19.47" lengthAdjust="spacingAndGlyphs">On</text>
<text x="611.80" y="41.85" class="rl" textLength="19.47" lengthAdjust="spacingAndGlyphs">On</text>
<text x="23.83" y="58.56" class="rl" textLength="8.37" lengthAdjust="spacingAndGlyphs">Y</text>
<text x="611.80" y="58.56" class="rl" textLength="8.37" lengthAdjust="spacingAndGlyphs">Y</text>
<text x="11.98" y="75.26" class="rl" textLength="20.22" lengthAdjust="spacingAndGlyphs">Off</text>
<text x="611.80" y="75.26" class="rl" textLength="20.22" lengthAdjust="spacingAndGlyphs">Off</text>
<text x="23.94" y="91.97" class="rl" textLength="8.26" lengthAdjust="spacingAndGlyphs">P</text>
<text x="611.80" y="91.97" class="rl" textLength="8.26" lengthAdjust="spacingAndGlyphs">P</text>
<text x="21.42" y="108.67" class="rl" textLength="10.78" lengthAdjust="spacingAndGlyphs">O</text>
<text x="611.80" y="108.67" class="rl" textLength="10.78" lengthAdjust="spacingAndGlyphs">O</text>
<text x="21.95" y="125.38" class="rl" textLength="10.25" lengthAdjust="spacingAndGlyphs">N</text>
<text x="611.80" y="125.38" class="rl" textLength="10.25" lengthAdjust="spacingAndGlyphs">N</text>
<text x="20.38" y="142.08" class="rl" textLength="11.82" lengthAdjust="spacingAndGlyphs">M</text>
<text x="611.80" y="142.08" class="rl" textLength="11.82" lengthAdjust="spacingAndGlyphs">M</text>
<text x="24.57" y="158.78" class="rl" textLength="7.63" lengthAdjust="spacingAndGlyphs">L</text>
<text x="611.80" y="158.78" class="rl" textLength="7.63" lengthAdjust="spacingAndGlyphs">L</text>
<text x="23.22" y="175.49" class="rl" textLength="8.98" lengthAdjust="spacingAndGlyphs">K</text>
<text x="611.80" y="175.49" class="rl" textLength="8.98" lengthAdjust="spacingAndGlyphs">K</text>
<path d="M30.2,182.21 V190.99 Q30.2,194.49 27.10,194.49" fill="none" stroke="#000" stroke-width="1.3"/>
<path d="M613.1,182.21 V190.99 Q613.1,194.49 610.00,194.49" fill="none" stroke="#000" stroke-width="1.3"/>
<text x="28.16" y="208.90" class="rl" textLength="4.04" lengthAdjust="spacingAndGlyphs">I</text>
<text x="611.80" y="208.90" class="rl" textLength="4.04" lengthAdjust="spacingAndGlyphs">I</text>
<text x="21.90" y="225.60" class="rl" textLength="10.30" lengthAdjust="spacingAndGlyphs">H</text>
<text x="611.80" y="225.60" class="rl" textLength="10.30" lengthAdjust="spacingAndGlyphs">H</text>
<text x="21.58" y="242.31" class="rl" textLength="10.62" lengthAdjust="spacingAndGlyphs">G</text>
<text x="611.80" y="242.31" class="rl" textLength="10.62" lengthAdjust="spacingAndGlyphs">G</text>
<text x="24.32" y="259.01" class="rl" textLength="7.88" lengthAdjust="spacingAndGlyphs">F</text>
<text x="611.80" y="259.01" class="rl" textLength="7.88" lengthAdjust="spacingAndGlyphs">F</text>
<text x="23.54" y="275.72" class="rl" textLength="8.66" lengthAdjust="spacingAndGlyphs">E</text>
<text x="611.80" y="275.72" class="rl" textLength="8.66" lengthAdjust="spacingAndGlyphs">E</text>
<text x="21.65" y="292.42" class="rl" textLength="10.55" lengthAdjust="spacingAndGlyphs">D</text>
<text x="611.80" y="292.42" class="rl" textLength="10.55" lengthAdjust="spacingAndGlyphs">D</text>
<text x="22.63" y="309.12" class="rl" textLength="9.57" lengthAdjust="spacingAndGlyphs">C</text>
<text x="611.80" y="309.12" class="rl" textLength="9.57" lengthAdjust="spacingAndGlyphs">C</text>
<text x="22.80" y="325.83" class="rl" textLength="9.40" lengthAdjust="spacingAndGlyphs">B</text>
<text x="611.80" y="325.83" class="rl" textLength="9.40" lengthAdjust="spacingAndGlyphs">B</text>
<text x="22.83" y="342.53" class="rl" textLength="9.37" lengthAdjust="spacingAndGlyphs">A</text>
<text x="611.80" y="342.53" class="rl" textLength="9.37" lengthAdjust="spacingAndGlyphs">A</text>
<text x="11.98" y="359.24" class="rl" textLength="20.22" lengthAdjust="spacingAndGlyphs">Off</text>
<text x="611.80" y="359.24" class="rl" textLength="20.22" lengthAdjust="spacingAndGlyphs">Off</text>
<text x="22.81" y="375.94" class="rl" textLength="9.39" lengthAdjust="spacingAndGlyphs">X</text>
<text x="611.80" y="375.94" class="rl" textLength="9.39" lengthAdjust="spacingAndGlyphs">X</text>
<text x="12.73" y="391.85" class="rl" textLength="19.47" lengthAdjust="spacingAndGlyphs">On</text>
<text x="611.80" y="391.85" class="rl" textLength="19.47" lengthAdjust="spacingAndGlyphs">On</text>
<line x1="49.50" x2="49.50" y1="408.7" y2="413" stroke="#111" stroke-width="1"/>
<text x="49.25" y="426.3" class="xt" text-anchor="middle">0</text>
<line x1="329.50" x2="329.50" y1="408.7" y2="413" stroke="#111" stroke-width="1"/>
<text x="329.25" y="426.3" class="xt" text-anchor="middle">0</text>
<line x1="89.50" x2="89.50" y1="408.7" y2="413" stroke="#111" stroke-width="1"/>
<text x="89.91" y="426.3" class="xt" text-anchor="middle">50</text>
<line x1="369.50" x2="369.50" y1="408.7" y2="413" stroke="#111" stroke-width="1"/>
<text x="369.92" y="426.3" class="xt" text-anchor="middle">50</text>
<line x1="130.50" x2="130.50" y1="408.7" y2="413" stroke="#111" stroke-width="1"/>
<text x="130.58" y="426.3" class="xt" text-anchor="middle">100</text>
<line x1="410.50" x2="410.50" y1="408.7" y2="413" stroke="#111" stroke-width="1"/>
<text x="410.58" y="426.3" class="xt" text-anchor="middle">100</text>
<line x1="171.50" x2="171.50" y1="408.7" y2="413" stroke="#111" stroke-width="1"/>
<text x="171.25" y="426.3" class="xt" text-anchor="middle">150</text>
<line x1="451.50" x2="451.50" y1="408.7" y2="413" stroke="#111" stroke-width="1"/>
<text x="451.25" y="426.3" class="xt" text-anchor="middle">150</text>
<line x1="211.50" x2="211.50" y1="408.7" y2="413" stroke="#111" stroke-width="1"/>
<text x="211.91" y="426.3" class="xt" text-anchor="middle">200</text>
<line x1="491.50" x2="491.50" y1="408.7" y2="413" stroke="#111" stroke-width="1"/>
<text x="491.91" y="426.3" class="xt" text-anchor="middle">200</text>
<line x1="252.50" x2="252.50" y1="408.7" y2="413" stroke="#111" stroke-width="1"/>
<text x="252.58" y="426.3" class="xt" text-anchor="middle">250</text>
<line x1="532.50" x2="532.50" y1="408.7" y2="413" stroke="#111" stroke-width="1"/>
<text x="532.58" y="426.3" class="xt" text-anchor="middle">250</text>
<line x1="293.50" x2="293.50" y1="408.7" y2="413" stroke="#111" stroke-width="1"/>
<text x="293.24" y="426.3" class="xt" text-anchor="middle">300</text>
<line x1="573.50" x2="573.50" y1="408.7" y2="413" stroke="#111" stroke-width="1"/>
<text x="573.24" y="426.3" class="xt" text-anchor="middle">300</text>
<text x="101.91" y="16.00" class="ti" textLength="159.99" lengthAdjust="spacingAndGlyphs">1.8 (LBA8=2008) X</text>
<text x="383.62" y="16.00" class="ti" textLength="158.75" lengthAdjust="spacingAndGlyphs">1.8 (LBA8=2008) Y</text>
<text transform="translate(3.4,217) rotate(-90)" x="-20.75" y="0" class="dl" textLength="41.50" lengthAdjust="spacingAndGlyphs">Dipole</text>
</svg>
</body></html>
